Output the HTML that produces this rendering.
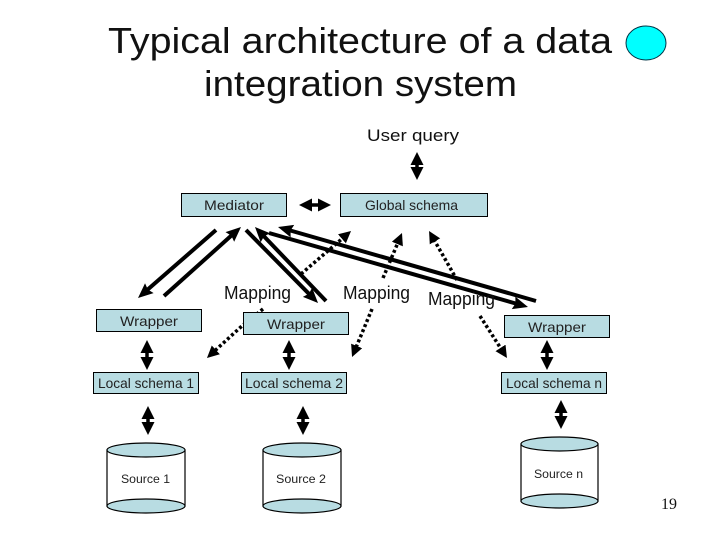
<!DOCTYPE html>
<html>
<head>
<meta charset="utf-8">
<style>
html,body{margin:0;padding:0;background:#fff;width:720px;height:540px;overflow:hidden}
svg{display:block}
text{font-family:"Liberation Sans",sans-serif;fill:#111}
.b{fill:#b8dce2;stroke:#000;stroke-width:1}
.t{font-size:14px;text-anchor:start;fill:#222}
.s{font-size:12px;fill:#222}
.m{font-size:18px}
.a{fill:none;stroke:#000;stroke-width:4}
.v{fill:none;stroke:#000;stroke-width:3.5}
.d{fill:none;stroke:#000;stroke-width:3.5;stroke-dasharray:3 2.5}
.c{fill:#fff;stroke:#000;stroke-width:1.2}
.e{fill:#b8dce2;stroke:#000;stroke-width:1.2}
</style>
</head>
<body>
<svg width="720" height="540" viewBox="0 0 720 540" xmlns="http://www.w3.org/2000/svg">
<defs>
<marker id="h" markerUnits="userSpaceOnUse" markerWidth="18" markerHeight="14" refX="4" refY="6.500" orient="auto-start-reverse"><path d="M0 0L15 6.500L0 13L2 6.500z" fill="#000"/></marker>
<marker id="hd" markerUnits="userSpaceOnUse" markerWidth="14" markerHeight="14" refX="3" refY="6" orient="auto-start-reverse"><path d="M0 0L12 6L0 12z" fill="#000"/></marker>
<marker id="hv" markerUnits="userSpaceOnUse" markerWidth="15" markerHeight="14" refX="3" refY="6.500" orient="auto-start-reverse"><path d="M0 0L13 6.500L0 13z" fill="#000"/></marker>
</defs>

<text x="108" y="53" font-size="36" textLength="504" lengthAdjust="spacingAndGlyphs">Typical architecture of a data</text>
<text x="204" y="96" font-size="36" textLength="313" lengthAdjust="spacingAndGlyphs">integration system</text>
<ellipse cx="646" cy="43" rx="20" ry="17" fill="#00ffff" stroke="#034" stroke-width="1"/>
<text x="367" y="141" font-size="17" textLength="92" lengthAdjust="spacingAndGlyphs">User query</text>

<path class="v" d="M417 162V170" marker-start="url(#hv)" marker-end="url(#hv)"/>
<path class="v" d="M309 205H321" marker-start="url(#hv)" marker-end="url(#hv)"/>

<rect class="b" x="181.500" y="193.500" width="105" height="23"/>
<text class="t" x="204" y="210" textLength="60" lengthAdjust="spacingAndGlyphs">Mediator</text>
<rect class="b" x="340.500" y="193.500" width="147" height="23"/>
<text class="t" x="365" y="210" textLength="93" lengthAdjust="spacingAndGlyphs">Global schema</text>

<!-- dotted -->
<path class="d" d="M301 274L344.200 236.900" marker-end="url(#hd)"/>
<path class="d" d="M263 309L243 325L213.600 351.900" marker-end="url(#hd)"/>
<path class="d" d="M383 278L398.500 241.300" marker-end="url(#hd)"/>
<path class="d" d="M372 309L355.500 348.700" marker-end="url(#hd)"/>
<path class="d" d="M457 280L433.500 238.800" marker-end="url(#hd)"/>
<path class="d" d="M480 316L502.100 350.400" marker-end="url(#hd)"/>

<!-- solid -->
<path class="a" d="M216 230L146.300 290.800" marker-end="url(#h)"/>
<path class="a" d="M164 296L232.800 234.300" marker-end="url(#h)"/>
<path class="a" d="M246 230L310.300 295.200" marker-end="url(#h)"/>
<path class="a" d="M326 301L262.600 234.900" marker-end="url(#h)"/>
<path class="a" d="M269 233L517.400 304" marker-end="url(#h)"/>
<path class="a" d="M536 301L288.600 230" marker-end="url(#h)"/>

<text class="m" x="224" y="299" textLength="67" lengthAdjust="spacingAndGlyphs">Mapping</text>
<text class="m" x="343" y="299" textLength="67" lengthAdjust="spacingAndGlyphs">Mapping</text>
<text class="m" x="428" y="305" textLength="67" lengthAdjust="spacingAndGlyphs">Mapping</text>

<rect class="b" x="96.500" y="309.500" width="105" height="22"/>
<text class="t" x="120" y="326" textLength="58" lengthAdjust="spacingAndGlyphs">Wrapper</text>
<rect class="b" x="243.500" y="312.500" width="105" height="22"/>
<text class="t" x="267" y="329" textLength="58" lengthAdjust="spacingAndGlyphs">Wrapper</text>
<rect class="b" x="504.500" y="315.500" width="105" height="22"/>
<text class="t" x="528" y="332" textLength="58" lengthAdjust="spacingAndGlyphs">Wrapper</text>

<path class="v" d="M147 350V360" marker-start="url(#hv)" marker-end="url(#hv)"/>
<path class="v" d="M289 350V360" marker-start="url(#hv)" marker-end="url(#hv)"/>
<path class="v" d="M547 350V360" marker-start="url(#hv)" marker-end="url(#hv)"/>

<rect class="b" x="93.500" y="372.500" width="105" height="21"/>
<text class="t" x="98" y="388" textLength="96" lengthAdjust="spacingAndGlyphs">Local schema 1</text>
<rect class="b" x="241.500" y="372.500" width="105" height="21"/>
<text class="t" x="245" y="388" textLength="98" lengthAdjust="spacingAndGlyphs">Local schema 2</text>
<rect class="b" x="501.500" y="372.500" width="105" height="21"/>
<text class="t" x="506" y="388" textLength="96" lengthAdjust="spacingAndGlyphs">Local schema n</text>

<path class="v" d="M148 416V425" marker-start="url(#hv)" marker-end="url(#hv)"/>
<path class="v" d="M303 416V425" marker-start="url(#hv)" marker-end="url(#hv)"/>
<path class="v" d="M561 410V419" marker-start="url(#hv)" marker-end="url(#hv)"/>

<!-- cylinders -->
<path class="c" d="M107 450V506H185V450z"/>
<ellipse class="e" cx="146" cy="450" rx="39" ry="7"/>
<ellipse class="e" cx="146" cy="506" rx="39" ry="7"/>
<text class="s" x="121" y="483" textLength="49" lengthAdjust="spacingAndGlyphs">Source 1</text>

<path class="c" d="M263 450V506H341V450z"/>
<ellipse class="e" cx="302" cy="450" rx="39" ry="7"/>
<ellipse class="e" cx="302" cy="506" rx="39" ry="7"/>
<text class="s" x="276" y="483" textLength="50" lengthAdjust="spacingAndGlyphs">Source 2</text>

<path class="c" d="M521 444V501H598V444z"/>
<ellipse class="e" cx="559.500" cy="444" rx="38.500" ry="7"/>
<ellipse class="e" cx="559.500" cy="501" rx="38.500" ry="7"/>
<text class="s" x="534" y="478" textLength="49" lengthAdjust="spacingAndGlyphs">Source n</text>

<text x="661" y="509" font-size="16" style="font-family:'Liberation Serif',serif">19</text>
</svg>
</body>
</html>
